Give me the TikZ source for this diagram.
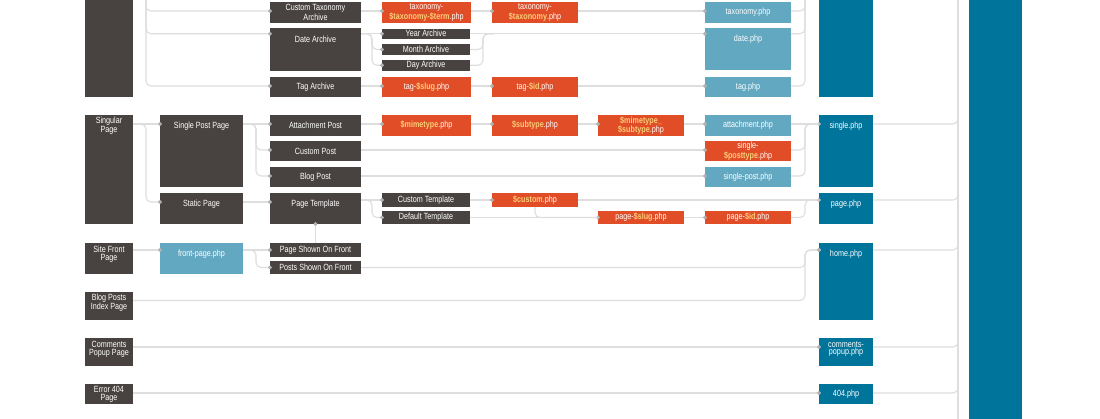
\documentclass[tikz,border=0pt]{standalone}
\usepackage{fontspec}
\setmainfont[FakeStretch=0.8]{Liberation Sans}
\usetikzlibrary{calc,arrows.meta}
\definecolor{dkc}{RGB}{72,66,64}
\definecolor{orc}{RGB}{224,77,38}
\definecolor{lbc}{RGB}{99,168,193}
\definecolor{dbc}{RGB}{0,116,154}
\definecolor{varc}{RGB}{252,205,120}
\definecolor{linec}{RGB}{222,222,222}
\definecolor{dotc}{RGB}{178,178,178}
\newcommand\vp[1]{\textbf{\color{varc}#1}}
\tikzset{
  boxbase/.style={rectangle, inner sep=0pt, outer sep=0pt},
  dk/.style={boxbase, fill=dkc},
  orb/.style={boxbase, fill=orc},
  lb/.style={boxbase, fill=lbc},
  db/.style={boxbase, fill=dbc},
  boxtext/.style={inner sep=0pt, text=white, align=center, font=\fontsize{9}{7.8}\selectfont},
  conn/.style={draw=linec, line width=1.1pt, rounded corners=5pt},
  dotend/.style={-{Circle[length=4pt,color=dotc]}, shorten >=-2pt},
  dotstart/.style={{Circle[length=4pt,color=dotc]}-, shorten <=-2pt}
}
% #1 style, #2 name, #3 x1, #4 y1, #5 x2, #6 y2, #7 text
\newcommand\wbox[7]{%
  \pgfmathsetmacro\bw{#5-#3}%
  \pgfmathsetmacro\bh{#6-#4}%
  \pgfmathsetmacro\tyo{\bh>24 ? 11 : \bh/2}%
  \pgfmathsetmacro\pyo{min(\bh/2,9)}%
  \node[#1, minimum width=\bw pt, minimum height=\bh pt, anchor=north west] (#2) at (#3,#4) {};
  \node[boxtext] (#2-t) at ($(#2.north)+(0,\tyo)$) {#7};
  \coordinate (#2-in) at ($(#2.north west)+(0,\pyo)$);
  \coordinate (#2-out) at ($(#2.north east)+(0,\pyo)$);
}
\begin{document}
\begin{tikzpicture}[x=1pt,y=-1pt]
\clip (0,0) rectangle (1100,418);
\fill[white] (0,0) rectangle (1100,418);
% ---- boxes ----
\wbox{dk}{arch}{85}{-30}{133}{97}{}
\wbox{dk}{cta}{270}{2}{361}{23}{Custom Taxonomy\\Archive}
\wbox{dk}{dateA}{270}{28}{361}{71}{Date Archive}
\wbox{dk}{tagA}{270}{77}{361}{97}{Tag Archive}
\wbox{dk}{yearA}{382}{28.5}{470}{39}{Year Archive}
\wbox{dk}{monthA}{382}{44}{470}{55}{Month Archive}
\wbox{dk}{dayA}{382}{59.5}{470}{71}{Day Archive}
\wbox{orb}{t1}{382}{2}{471}{23}{taxonomy-\\\vp{\$taxonomy-\$term}.php}
\wbox{orb}{t2}{492}{2}{578}{23}{taxonomy-\\\vp{\$taxonomy}.php}
\wbox{orb}{tg1}{382}{77}{471}{97}{tag-\vp{\$slug}.php}
\wbox{orb}{tg2}{492}{77}{578}{97}{tag-\vp{\$id}.php}
\wbox{lb}{taxphp}{705}{2}{791}{23}{taxonomy.php}
\wbox{lb}{datephp}{705}{28}{791}{70}{date.php}
\wbox{lb}{tagphp}{705}{77}{791}{97}{tag.php}
\wbox{db}{archphp}{819}{-30}{873}{97}{}
\wbox{db}{index}{969}{-30}{1022}{450}{}
%
\wbox{dk}{sing}{85}{115}{133}{224}{Singular\\Page}
\wbox{dk}{spp}{160}{115}{243}{187}{Single Post Page}
\wbox{dk}{stat}{160}{193}{243}{224}{Static Page}
\wbox{dk}{attP}{270}{115}{361}{136}{Attachment Post}
\wbox{dk}{custP}{270}{141}{361}{161}{Custom Post}
\wbox{dk}{blogP}{270}{167}{361}{187}{Blog Post}
\wbox{dk}{pgT}{270}{193}{361}{224}{Page Template}
\wbox{dk}{custT}{382}{193}{470}{207}{Custom Template}
\wbox{dk}{defT}{382}{211}{470}{224}{Default Template}
\wbox{orb}{mt}{382}{115}{471}{136}{\vp{\$mimetype}.php}
\wbox{orb}{st}{492}{115}{578}{136}{\vp{\$subtype}.php}
\wbox{orb}{ms}{598}{115}{684}{136}{\vp{\$mimetype\_}\\\vp{\$subtype}.php}
\wbox{lb}{attphp}{705}{115}{791}{136}{attachment.php}
\wbox{orb}{sptype}{705}{141}{791}{161}{single-\\\vp{\$posttype}.php}
\wbox{lb}{spost}{705}{167}{791}{187}{single-post.php}
\wbox{orb}{cust}{492}{193}{578}{207}{\vp{\$custom}.php}
\wbox{orb}{pslug}{598}{211}{684}{224}{page-\vp{\$slug}.php}
\wbox{orb}{pid}{705}{211}{791}{224}{page-\vp{\$id}.php}
\wbox{db}{singlephp}{819}{115}{873}{187}{single.php}
\wbox{db}{pagephp}{819}{193}{873}{224}{page.php}
%
\wbox{dk}{sfp}{85}{243}{133}{274}{Site Front\\Page}
\wbox{lb}{fpp}{160}{243}{243}{274}{front-page.php}
\wbox{dk}{psf}{270}{243}{361}{257}{Page Shown On Front}
\wbox{dk}{pof}{270}{261}{361}{274}{Posts Shown On Front}
\wbox{dk}{bpi}{85}{291.5}{133}{320}{Blog Posts\\Index Page}
\wbox{db}{homephp}{819}{243}{873}{320}{home.php}
\wbox{dk}{cpp}{85}{338}{133}{366}{Comments\\Popup Page}
\wbox{db}{cpphp}{819}{338}{873}{366}{comments-\\popup.php}
\wbox{dk}{e404}{85}{384}{133}{404}{Error 404\\Page}
\wbox{db}{p404}{819}{384}{873}{404}{404.php}
% ---- free ends / junctions ----
\coordinate (topL) at (146,-30);
\coordinate (midT) at (805,-30);
\coordinate (rvT) at (958,-30);
\coordinate (rvB) at (958,450);
\coordinate (jS) at ($(attphp.east |- attP-in)!0.5!(singlephp.west |- attP-in)$);
\coordinate (jP) at ($(pid.east |- cust-in)!0.5!(pagephp.west |- cust-in)$);
% ---- connectors: archive ----
\draw[conn] (rvT) -- (rvB);
\draw[conn,dotend] (topL) |- (cta-in);
\draw[conn,dotend] (topL) |- (dateA.west |- yearA-in);
\draw[conn,dotend] (topL) |- (tagA-in);
\draw[conn,dotend] (cta-out) -- (t1-in);
\draw[conn,dotend] (t1-out) -- (t2-in);
\draw[conn,dotend] (t2-out) -- (taxphp-in);
\draw[conn,dotend] (dateA.east |- yearA-in) -- (yearA-in);
\draw[conn,dotend] (dateA.east |- yearA-in) -- ++(11,0) |- (monthA-in);
\draw[conn,dotend] (dateA.east |- yearA-in) -- ++(11,0) |- (dayA-in);
\draw[conn,dotend] (yearA-out) -- (yearA-out -| datephp.west);
\draw[conn] (monthA-out) -| ($(yearA-out)+(13,0)$) -- ($(yearA-out)+(24,0)$);
\draw[conn] (dayA-out) -| ($(yearA-out)+(13,0)$) -- ($(yearA-out)+(24,0)$);
\draw[conn,dotend] (tagA-out) -- (tg1-in);
\draw[conn,dotend] (tg1-out) -- (tg2-in);
\draw[conn,dotend] (tg2-out) -- (tagphp-in);
\draw[conn] (taxphp-out) -| (midT);
\draw[conn] (yearA-out -| datephp.east) -| (midT);
\draw[conn] (tagphp-out) -| (midT);
% ---- singular ----
\draw[conn,dotend] (sing.east |- spp-in) -- (spp-in);
\draw[conn,dotend] (sing.east |- spp-in) -- ++(13,0) |- (stat-in);
\draw[conn,dotend] (spp.east |- attP-in) -- (attP-in);
\draw[conn,dotend] (spp.east |- attP-in) -- ++(13,0) |- (custP-in);
\draw[conn,dotend] (spp.east |- attP-in) -- ++(13,0) |- (blogP-in);
\draw[conn,dotend] (attP-out) -- (mt-in);
\draw[conn,dotend] (mt-out) -- (st-in);
\draw[conn,dotend] (st-out) -- (ms-in);
\draw[conn,dotend] (ms-out) -- (attphp-in);
\draw[conn,dotend] (attphp-out) -- (jS -| singlephp.west);
\draw[conn,dotend] (custP-out) -- (sptype-in);
\draw[conn,dotend] (blogP-out) -- (spost-in);
\draw[conn] (sptype-out) -| (jS) -- (jS -| singlephp.west);
\draw[conn] (spost-out) -| (jS) -- (jS -| singlephp.west);
\draw[conn,dotend] (stat.east |- pgT-in) -- (pgT-in);
\draw[conn,dotend] (pgT.east |- custT-in) -- (custT-in);
\draw[conn,dotend] (pgT.east |- custT-in) -- ++(11,0) |- (defT-in);
\draw[conn,dotend] (custT-out) -- (cust-in);
\draw[conn,dotend] (cust-out) -- (jP -| pagephp.west);
\draw[conn,dotend] (defT-out) -- (pslug-in);
\draw[conn] (cust.south) |- (pslug-in);
\draw[conn,dotend] (pslug-out) -- (pid-in);
\draw[conn] (pid-out) -| (jP) -- (jP -| pagephp.west);
\draw[conn] (singlephp.east |- jS) -| (rvT);
\draw[conn] (pagephp.east |- jP) -| (rvT);
% ---- front page / others ----
\draw[conn,dotstart] (pgT.south) -- (psf.north);
\draw[conn,dotend] (sfp.east |- psf-in) -- (fpp.west |- psf-in);
\draw[conn,dotend] (fpp.east |- psf-in) -- (psf-in);
\draw[conn,dotend] (fpp.east |- psf-in) -- ++(13,0) |- (pof-in);
\coordinate (jH2) at (jS |- psf-in);
\draw[conn,dotend] (pof-out) -| (jH2) -- (homephp.west |- jH2);
\draw[conn,dotend] (bpi-out) -| (jH2) -- (homephp.west |- jH2);
\draw[conn,dotend] (cpp-out) -- (cpphp-in);
\draw[conn,dotend] (e404-out) -- (p404-in);
\draw[conn] (homephp.east |- jH2) -| (rvT);
\draw[conn] (cpphp-out) -| (rvT);
\draw[conn] (p404-out) -| (rvT);
\end{tikzpicture}
\end{document}
